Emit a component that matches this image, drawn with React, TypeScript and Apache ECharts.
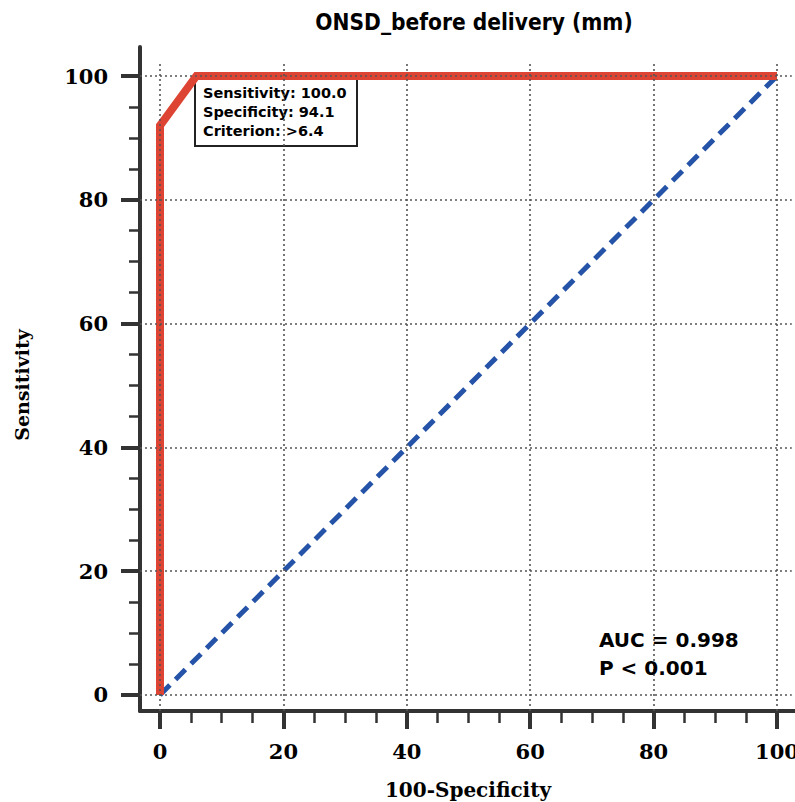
import React, { useEffect, useRef } from "react";
import * as echarts from "echarts";

// ---- data ----
const titleText = "ONSD_before delivery (mm)";
const xAxisName = "100-Specificity";
const yAxisName = "Sensitivity";
const majorTicks = [0, 20, 40, 60, 80, 100];
const minorTicks = [5, 10, 15, 25, 30, 35, 45, 50, 55, 65, 70, 75, 85, 90, 95];
const rocX = [0, 0, 5.9, 100];
const rocY = [0, 92, 100, 100];
const refX = [0, 100];
const refY = [0, 100];
const boxLines = ["Sensitivity: 100.0", "Specificity: 94.1", "Criterion: >6.4"];
const statLines = ["AUC = 0.998", "P < 0.001"];

// axis extents (frame includes the offset spines)
const X_MIN = -3.241;
const X_MAX = 102.917;
const Y_MIN = -2.585;
const Y_MAX = 104.685;
const GRID_X_END = 102.4;
const GRID_Y_END = 102.1;

export default function App() {
  const ref = useRef<HTMLDivElement>(null);
  useEffect(() => {
    document.body.style.margin = "0";
    if (!ref.current) return;
    const chart = echarts.init(ref.current, null, { renderer: "svg" });
    const tickFont = {
      fontFamily: "DejaVu Serif",
      fontWeight: "bold" as const,
      fontSize: 21,
      color: "#000",
    };
    const gridLines: any[] = [];
    majorTicks.forEach((v) => {
      gridLines.push([{ coord: [v, Y_MIN] }, { coord: [v, GRID_Y_END] }]);
      gridLines.push([{ coord: [X_MIN, v] }, { coord: [GRID_X_END, v] }]);
    });
    const axisColor = "#333";
    chart.setOption({
      animation: false,
      backgroundColor: "#fff",
      title: {
        text: titleText,
        left: 469,
        textAlign: "center",
        top: 5,
        textStyle: {
          fontFamily: "'DejaVu Sans Condensed', 'Liberation Sans Narrow', 'DejaVu Sans'",
          fontWeight: "bold",
          fontSize: 22.5,
          color: "#000",
        },
      },
      grid: {
        left: 140,
        top: 47,
        right: 0,
        bottom: 91,
        containLabel: false,
        outerBoundsMode: "none",
      },
      xAxis: [
        {
          type: "value",
          min: X_MIN,
          max: X_MAX,
          position: "bottom",
          axisLine: { show: true, onZero: false, lineStyle: { color: axisColor, width: 4 } },
          axisTick: { show: true, customValues: majorTicks, length: 18, lineStyle: { color: axisColor, width: 4 } },
          axisLabel: { show: true, customValues: majorTicks, margin: 30, ...tickFont },
          splitLine: { show: false },
        },
        {
          type: "value",
          min: X_MIN,
          max: X_MAX,
          position: "bottom",
          axisLine: { show: false, onZero: false },
          axisTick: { show: true, customValues: minorTicks, length: 12, lineStyle: { color: axisColor, width: 2.5 } },
          axisLabel: { show: false },
          splitLine: { show: false },
        },
      ],
      yAxis: [
        {
          type: "value",
          min: Y_MIN,
          max: Y_MAX,
          position: "left",
          axisLine: { show: true, onZero: false, lineStyle: { color: axisColor, width: 4 } },
          axisTick: { show: true, customValues: majorTicks, length: 19, lineStyle: { color: axisColor, width: 4 } },
          axisLabel: { show: true, customValues: majorTicks, margin: 32, ...tickFont },
          splitLine: { show: false },
        },
        {
          type: "value",
          min: Y_MIN,
          max: Y_MAX,
          position: "left",
          axisLine: { show: false, onZero: false },
          axisTick: { show: true, customValues: minorTicks, length: 11, lineStyle: { color: axisColor, width: 2.5 } },
          axisLabel: { show: false },
          splitLine: { show: false },
        },
      ],
      series: [
        {
          type: "line",
          xAxisIndex: 0,
          yAxisIndex: 0,
          data: [[0, 0]],
          showSymbol: false,
          symbol: "none",
          lineStyle: { opacity: 0 },
          silent: true,
          z: 1,
          markLine: {
            silent: true,
            symbol: "none",
            label: { show: false },
            lineStyle: { type: [2, 3], color: "#555", width: 1.6 },
            data: gridLines,
          },
        },
        {
          type: "line",
          xAxisIndex: 0,
          yAxisIndex: 0,
          data: refX.map((x, i) => [x, refY[i]]),
          symbol: "none",
          z: 3,
          lineStyle: { color: "#2553A8", width: 5, type: [14, 8] },
        },
        {
          type: "line",
          xAxisIndex: 0,
          yAxisIndex: 0,
          data: rocX.map((x, i) => [x, rocY[i]]),
          symbol: "none",
          z: 4,
          lineStyle: { color: "#DD4433", width: 8, join: "miter" },
        },
      ],
      graphic: [
        {
          type: "group",
          z: 100,
          children: [
            {
              type: "rect",
              shape: { x: 195, y: 77, width: 162, height: 69 },
              style: { fill: "#fff", stroke: "#222", lineWidth: 2 },
            },
            ...boxLines.map((t, i) => ({
              type: "text",
              x: 203,
              y: 93 + i * 19,
              style: {
                text: t,
                font: "bold 14.5px 'DejaVu Sans'",
                fill: "#000",
                verticalAlign: "middle",
              },
            })),
          ],
        },
        ...statLines.map((t, i) => ({
          type: "text",
          z: 100,
          x: 599,
          y: 640 + i * 28,
          style: {
            text: t,
            font: "bold 20px 'DejaVu Sans'",
            fill: "#000",
            verticalAlign: "middle",
          },
        })),
        {
          type: "text",
          x: 468,
          y: 790,
          style: {
            text: xAxisName,
            font: "bold 20px 'DejaVu Serif'",
            fill: "#000",
            align: "center",
            verticalAlign: "middle",
          },
        },
        {
          type: "text",
          x: 22,
          y: 385,
          rotation: Math.PI / 2,
          style: {
            text: yAxisName,
            font: "bold 19px 'DejaVu Serif'",
            fill: "#000",
            align: "center",
            verticalAlign: "middle",
          },
        },
      ],
    });
    return () => chart.dispose();
  }, []);
  return <div ref={ref} style={{ width: 795, height: 802 }} />;
}
